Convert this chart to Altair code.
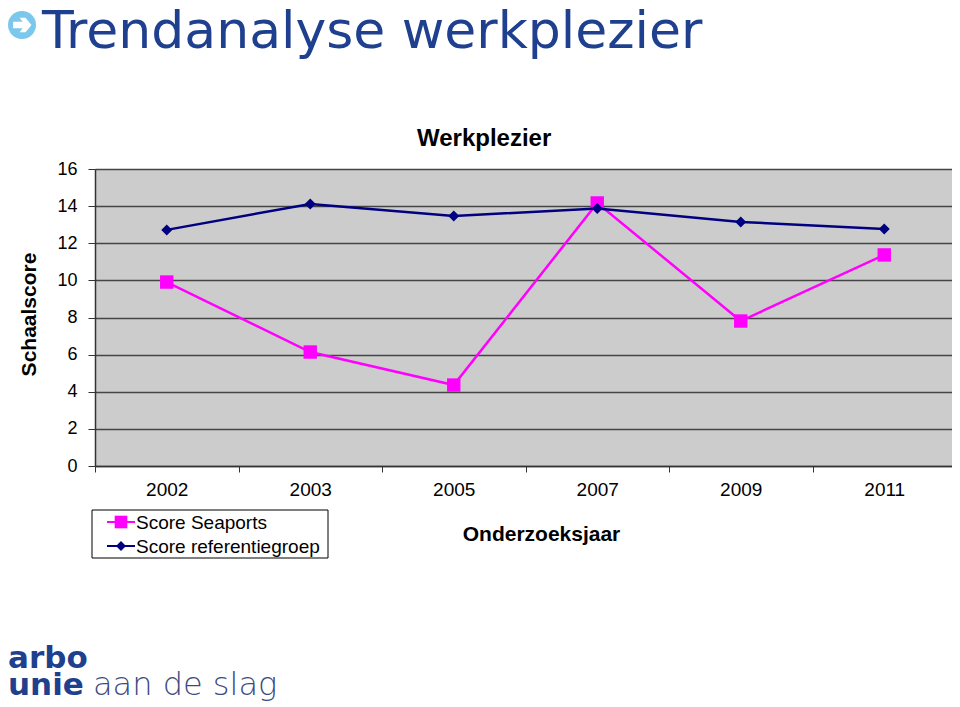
import altair as alt
import pandas as pd

years = ["2002", "2003", "2005", "2007", "2009", "2011"]
seaports = [9.91, 6.14, 4.36, 14.17, 7.81, 11.37]
referentie = [12.72, 14.12, 13.47, 13.87, 13.15, 12.77]
y_ticks = [0, 2, 4, 6, 8, 10, 12, 14, 16]

PINK, NAVY = "#FF00FF", "#000080"
BLUE = "#1F3F8F"
FONT = "Liberation Sans"
OX, OY = 95, 169  # plot-area origin on the page

x_enc = alt.X("year:N", sort=years, scale=alt.Scale(paddingInner=0, paddingOuter=0, range=[0, 861]),
              axis=alt.Axis(title="Onderzoeksjaar", titleFont=FONT, titleFontSize=21, titleFontWeight="bold",
                            titleColor="black", titleX=541 - OX, titleY=540 - 466, titleBaseline="alphabetic",
                            titleAnchor="middle", labelAngle=0, labelFont=FONT, labelFontSize=19, labelColor="black",
                            labelPadding=8, tickSize=6, tickColor="#333333", tickBand="extent",
                            domainColor="#333333", domainWidth=1.5, grid=False))
y_enc = alt.Y("score:Q", scale=alt.Scale(domain=[0, 16], nice=False),
              axis=alt.Axis(title="Schaalscore", titleFont=FONT, titleFontSize=21, titleFontWeight="bold",
                            titleColor="black", titleX=35 - OX, titleY=314 - OY, titleAngle=-90, titleBaseline="alphabetic",
                            values=y_ticks, labelFont=FONT, labelFontSize=18, labelColor="black", labelPadding=11,
                            tickSize=7, tickColor="#333333", domainColor="#333333", domainWidth=1.5,
                            grid=True, gridColor="#444444", gridWidth=1.5))


def series_layer(values, color, shape, size, width):
    data = pd.DataFrame({"year": years, "score": values})
    base = alt.Chart(data).encode(x=x_enc, y=y_enc)
    return [base.mark_line(color=color, strokeWidth=width),
            base.mark_point(color=color, fill=color, filled=True, shape=shape, size=size, opacity=1)]


def text(t, px, py, size, color="black", font=FONT, weight="normal", align="left"):
    return alt.Chart(alt.Data(values=[{"t": t}])).mark_text(
        font=font, fontSize=size, fontWeight=weight, color=color, align=align, baseline="alphabetic"
    ).encode(x=alt.value(px - OX), y=alt.value(py - OY), text="t:N")


def one():
    return alt.Chart(alt.Data(values=[{"a": 1}]))


legend_items = [("Score Seaports", 522, PINK, "square", 160, 136),
                ("Score referentiegroep", 546, NAVY, "diamond", 100, 136)]
legend = [one().mark_rect(fill="white", stroke="black", strokeWidth=1).encode(
    x=alt.value(92 - OX), x2=alt.value(328 - OX), y=alt.value(510 - OY), y2=alt.value(558 - OY))]
for label, ly, col, shp, sz, tx in legend_items:
    legend.append(one().mark_rule(color=col, strokeWidth=2).encode(
        x=alt.value(107 - OX), x2=alt.value(135 - OX), y=alt.value(ly - OY)))
    legend.append(one().mark_point(color=col, fill=col, filled=True, shape=shp, size=sz, opacity=1).encode(
        x=alt.value(121 - OX), y=alt.value(ly - OY)))
    legend.append(text(label, tx, ly + 7, 19))

ARROW = "M-0.75,-0.28 L0.05,-0.28 L-0.2,-0.62 L0.3,-0.62 L0.8,0 L0.3,0.62 L-0.2,0.62 L0.05,0.28 L-0.75,0.28 Z"
icon = [
    one().mark_point(filled=True, fill="#7CC8EC", color="#7CC8EC", shape="circle", size=784, opacity=1).encode(
        x=alt.value(22 - OX), y=alt.value(25 - OY)),
    one().mark_point(filled=True, fill="white", color="white", shape=ARROW, size=560, opacity=1).encode(
        x=alt.value(22 - OX), y=alt.value(25 - OY)),
]

layers = (series_layer(seaports, PINK, "square", 180, 2.5)
          + series_layer(referentie, NAVY, "diamond", 121, 2.5)
          + legend + icon
          + [text("Trendanalyse werkplezier", 42, 48, 52, BLUE, "DejaVu Sans", "normal"),
             text("Werkplezier", 417, 146, 24, "black", FONT, "bold"),
             text("arbo", 8, 668, 31, BLUE, "DejaVu Sans", "bold"),
             text("unie", 8, 695, 31, BLUE, "DejaVu Sans", "bold"),
             text("aan de slag", 93, 695, 32, "#3C4A80", "DejaVu Sans", 200)])

chart = alt.layer(*layers).properties(
    width=857, height=297,
    padding={"left": OX - 8, "top": OY - 8, "right": 0, "bottom": 241},
    autosize=alt.AutoSizeParams(type="none"),
).configure_view(fill="#CCCCCC", stroke=None)

chart.save("out.html", embed_options={"renderer": "svg", "actions": False})
